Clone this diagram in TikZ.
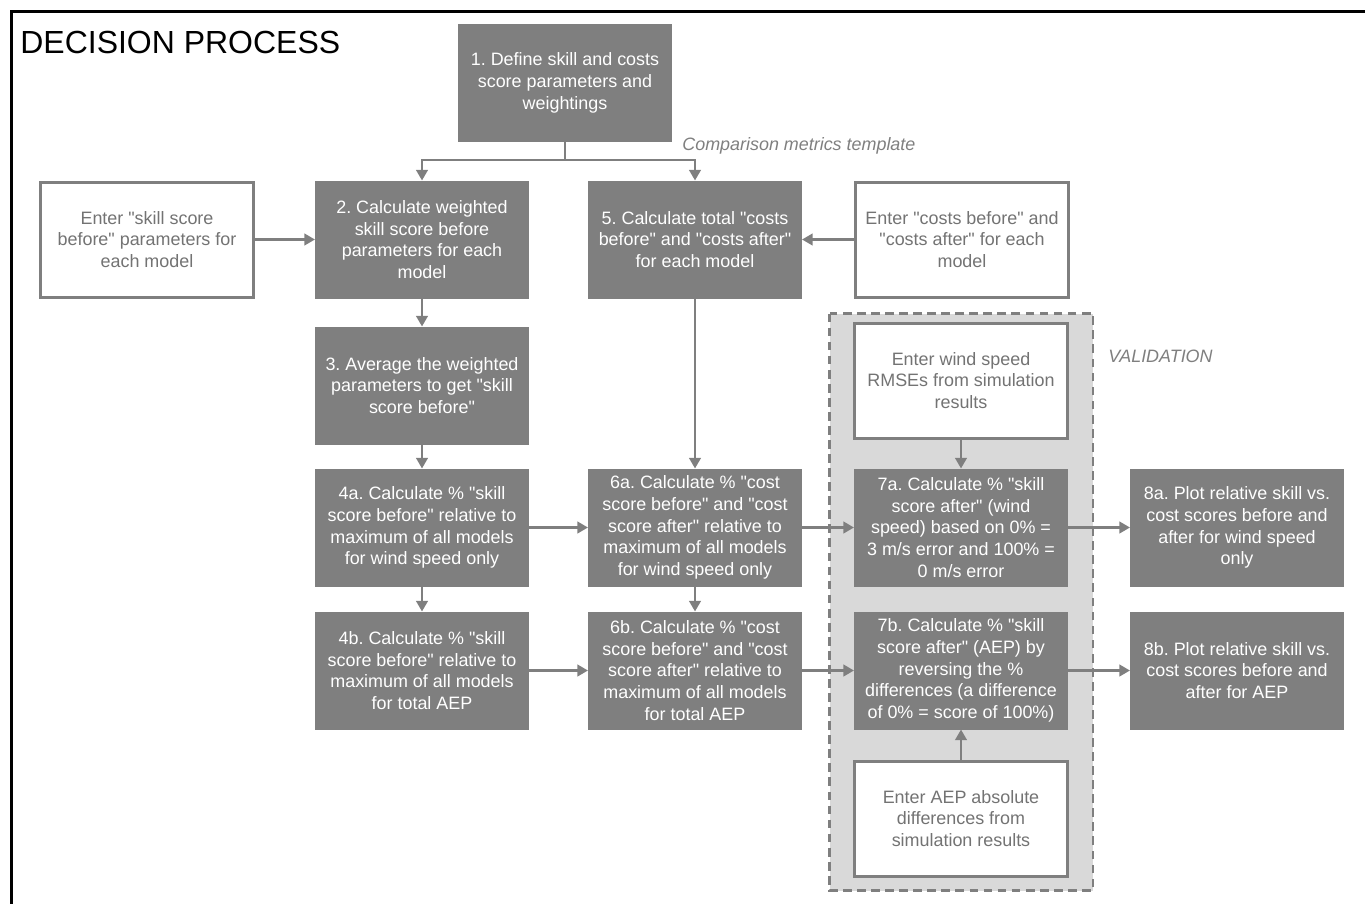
\documentclass[tikz,border=0pt]{standalone}
\usepackage{fontspec}
\setmainfont{Liberation Sans}
\usepackage{xcolor}
\usepackage{tikz}
\usetikzlibrary{arrows.meta,positioning,calc,backgrounds}
\definecolor{boxgrey}{HTML}{7F7F7F}
\definecolor{valgrey}{HTML}{D9D9D9}
\definecolor{txtgrey}{HTML}{737373}
\newcommand{\qq}{\textquotedbl}
\frenchspacing
\tikzset{
    procbox/.style={fill=boxgrey,draw=none,minimum width=4.28cm,minimum height=2.36cm,
      inner sep=1pt,outer sep=0pt,text=white,align=center,
      font=\fontsize{10.2}{12.4}\selectfont},
    inbox/.style={fill=white,draw=boxgrey,line width=1.7pt,minimum width=4.26cm,
      minimum height=2.3cm,inner sep=1pt,text=txtgrey,align=center,
      font=\fontsize{10.2}{12.4}\selectfont},
    valbox/.style={fill=valgrey,draw=boxgrey,line width=1.7pt,dash pattern=on 5pt off 3pt},
    flowarrow/.style={-{Triangle[length=6pt,width=6.5pt]},draw=boxgrey,line width=1.4pt},
    notetext/.style={inner sep=0pt,text=boxgrey,font=\fontsize{10.2}{12.4}\selectfont\itshape},
    frameline/.style={draw=black,line width=1.2pt}
}
\begin{document}
\begin{tikzpicture}
  \useasboundingbox (0,0) rectangle (27.3,-18.06);
  \draw[frameline] (0.23,-18.1) -- (0.23,-0.23) -- (27.4,-0.23);
  \node[anchor=west,inner sep=0pt,font=\fontsize{18.2}{20}\selectfont] (title) at (0.4,-0.84) {DECISION PROCESS};
  % top row
  \node[procbox] (b1) at (11.3,-1.66) {1. Define skill and costs\\score parameters and\\weightings};
  \node[procbox] (b2) at (8.44,-4.79) {2. Calculate weighted\\skill score before\\parameters for each\\model};
  \node[procbox,right=1.18cm of b2] (b5) {5. Calculate total \qq costs\\before\qq{} and \qq costs after\qq\\for each model};
  \node[inbox,left=1.2cm of b2] (inskill) {Enter \qq skill score\\before\qq{} parameters for\\each model};
  \node[inbox,right=1.04cm of b5] (incost) {Enter \qq costs before\qq{} and\\\qq costs after\qq{} for each\\model};
  % left column
  \node[procbox,below=0.56cm of b2] (b3) {3. Average the weighted\\parameters to get \qq skill\\score before\qq};
  \node[procbox,below=0.48cm of b3] (b4a) {4a. Calculate \% \qq skill\\score before\qq{} relative to\\maximum of all models\\for wind speed only};
  \node[procbox,below=0.5cm of b4a] (b4b) {4b. Calculate \% \qq skill\\score before\qq{} relative to\\maximum of all models\\for total AEP};
  \node[procbox,right=1.18cm of b4a] (b6a) {6a. Calculate \% \qq cost\\score before\qq{} and \qq cost\\score after\qq{} relative to\\maximum of all models\\for wind speed only};
  \node[procbox,right=1.18cm of b4b] (b6b) {6b. Calculate \% \qq cost\\score before\qq{} and \qq cost\\score after\qq{} relative to\\maximum of all models\\for total AEP};
  % validation
  \node[procbox,right=1.04cm of b6a] (b7a) {7a. Calculate \% \qq skill\\score after\qq{} (wind\\speed) based on 0\% =\\3 m/s error and 100\% =\\0 m/s error};
  \node[procbox,right=1.04cm of b6b] (b7b) {7b. Calculate \% \qq skill\\score after\qq{} (AEP) by\\reversing the \%\\differences (a difference\\of 0\% = score of 100\%)};
  \node[inbox,above=0.58cm of b7a] (inwind) {Enter wind speed\\RMSEs from simulation\\results};
  \node[inbox,below=0.6cm of b7b] (inaep) {Enter AEP absolute\\differences from\\simulation results};
  \node[procbox,right=1.24cm of b7a] (b8a) {8a. Plot relative skill vs.\\cost scores before and\\after for wind speed\\only};
  \node[procbox,right=1.24cm of b7b] (b8b) {8b. Plot relative skill vs.\\cost scores before and\\after for AEP};
  \begin{scope}[on background layer]
    \draw[valbox] ($(inwind.north west)+(-0.47,0.16)$) rectangle ($(inaep.south east)+(0.48,-0.26)$);
  \end{scope}
  \node[notetext,right=0.2cm of b1.south east,yshift=-0.08cm] (cmt) {Comparison metrics template};
  \node[notetext,anchor=west] (valtxt) at (22.16,-7.12) {VALIDATION};
  % connectors
  \coordinate (split) at ($(b1.south)+(0,-0.36)$);
  \draw[flowarrow] (b1.south) -- (split) -| (b2.north);
  \draw[flowarrow] (split) -| (b5.north);
  \draw[flowarrow] (inskill) -- (b2);
  \draw[flowarrow] (incost) -- (b5);
  \draw[flowarrow] (b2) -- (b3);
  \draw[flowarrow] (b3) -- (b4a);
  \draw[flowarrow] (b4a) -- (b4b);
  \draw[flowarrow] (b5) -- (b6a);
  \draw[flowarrow] (b6a) -- (b6b);
  \draw[flowarrow] (b4a) -- (b6a);
  \draw[flowarrow] (b4b) -- (b6b);
  \draw[flowarrow] (b6a) -- (b7a);
  \draw[flowarrow] (b6b) -- (b7b);
  \draw[flowarrow] (b7a) -- (b8a);
  \draw[flowarrow] (b7b) -- (b8b);
  \draw[flowarrow] (inwind) -- (b7a);
  \draw[flowarrow] (inaep) -- (b7b);
\end{tikzpicture}
\end{document}
